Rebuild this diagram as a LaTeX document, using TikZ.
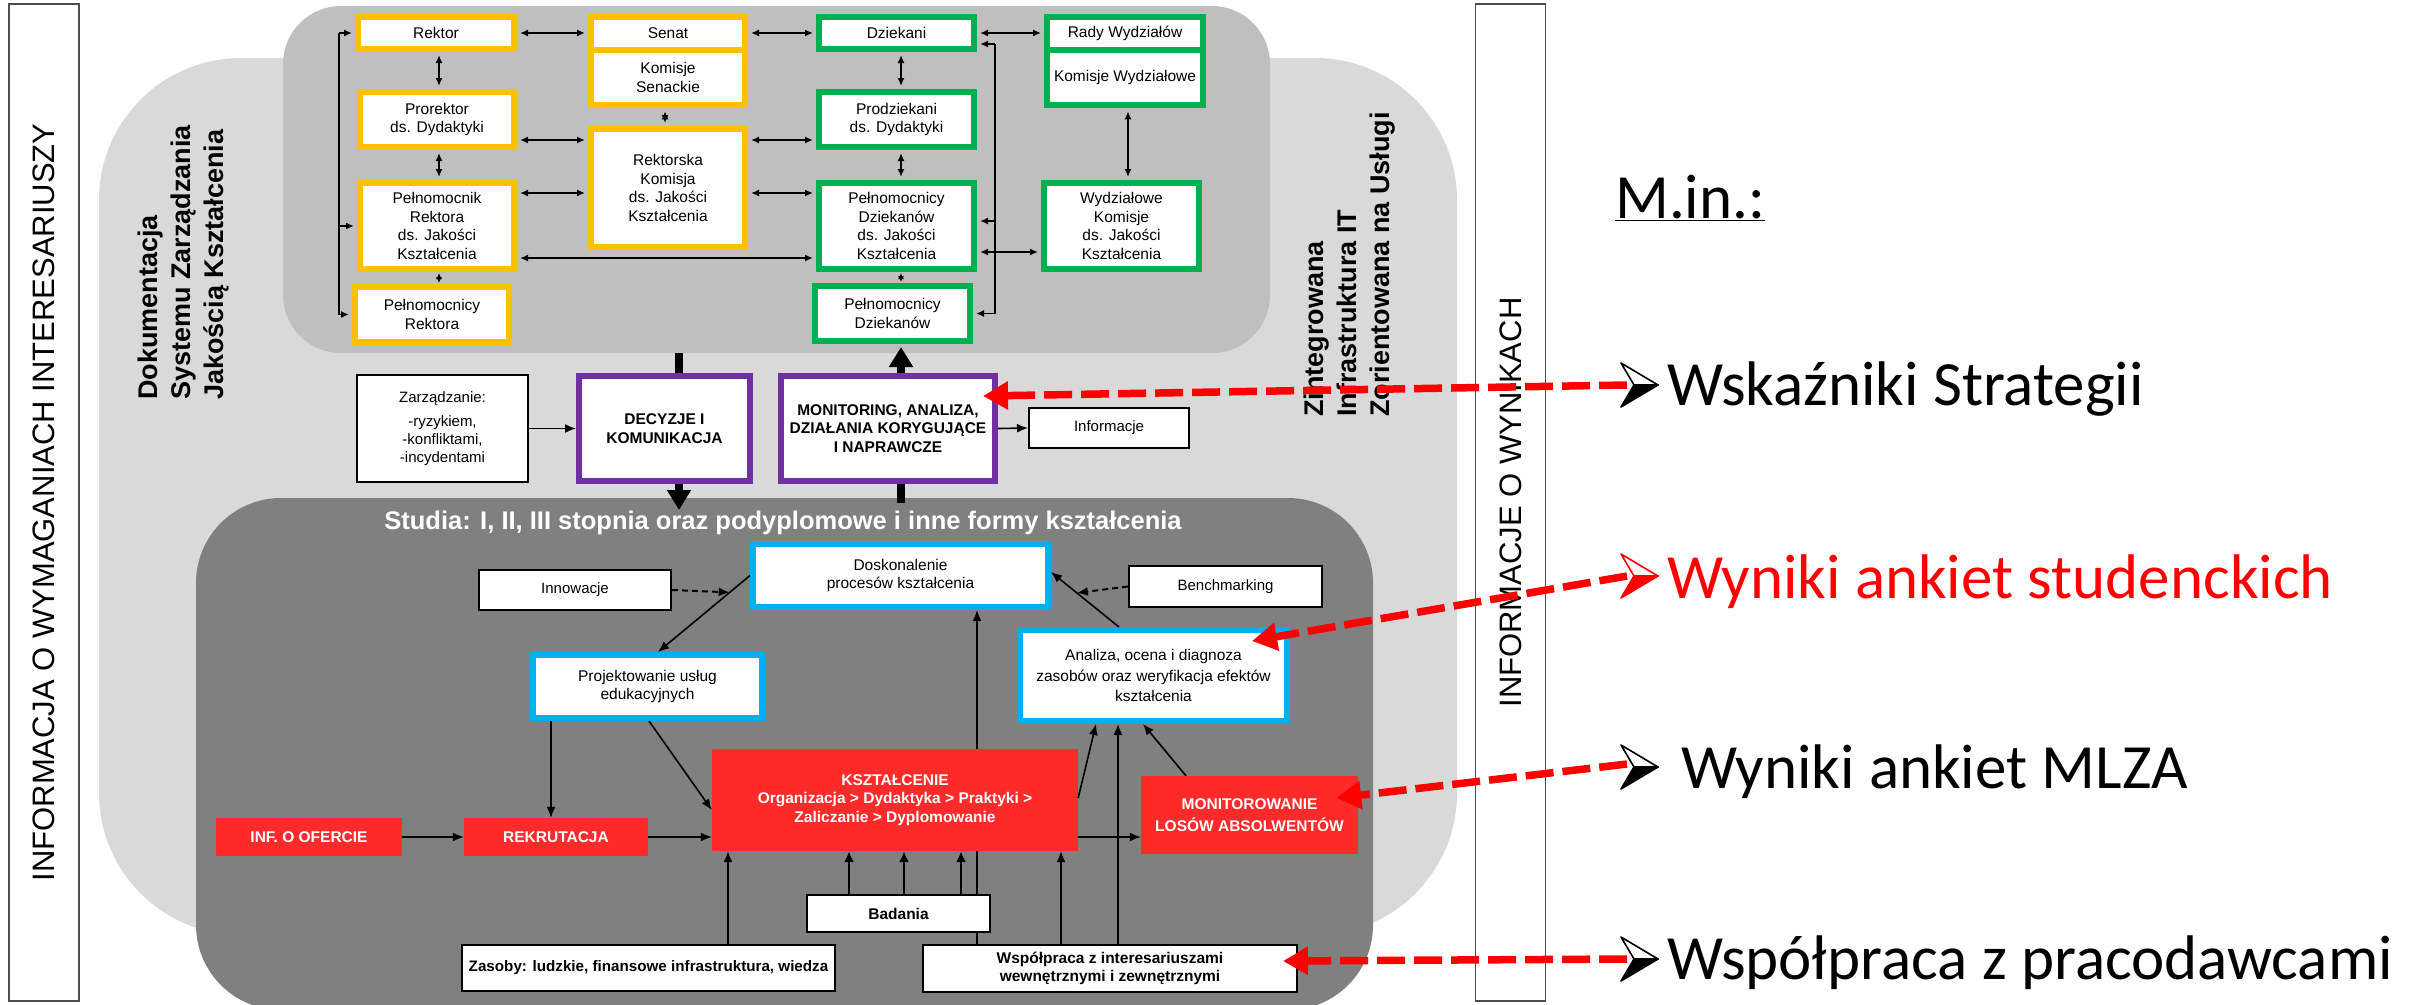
\documentclass[tikz,border=0pt]{standalone}
\usepackage{fontspec}
\setmainfont{Liberation Sans}
\newfontfamily\calibri{Carlito}
\usetikzlibrary{arrows.meta,calc}
\pgfdeclarelayer{bg}
\pgfdeclarelayer{behind}
\pgfsetlayers{bg,behind,main}
\definecolor{lgray}{HTML}{D9D9D9}
\definecolor{mgray}{HTML}{BFBFBF}
\definecolor{dgray}{HTML}{808080}
\definecolor{orng}{HTML}{FFC000}
\definecolor{grn}{HTML}{00B050}
\definecolor{purp}{HTML}{7030A0}
\definecolor{blu}{HTML}{00B0F0}
\definecolor{redbox}{HTML}{FF2A2A}
\definecolor{rline}{HTML}{FF0000}
\newcommand{\fsz}[2]{\fontsize{#1}{#2}\selectfont}
\newcommand{\bulletmark}[2]{%
  \filldraw[draw=#2,fill=white,line width=1.6pt,line join=round] ($(#1)+(-19,-22)$) -- ($(#1)+(18,0)$) -- ($(#1)+(-6,0)$) -- cycle;
  \filldraw[draw=#2,fill=#2,line width=1.6pt,line join=round] ($(#1)+(-19,22)$) -- ($(#1)+(18,0)$) -- ($(#1)+(-6,0)$) -- cycle;
}
\begin{document}
\begin{tikzpicture}[x=1pt,y=-1pt,
  every node/.style={inner sep=0pt, align=center},
  boxO/.style={draw=orng, line width=6pt, fill=white, font=\fsz{15.5}{18.5}},
  boxG/.style={draw=grn, line width=6pt, fill=white, font=\fsz{15.5}{18.5}},
  boxP/.style={draw=purp, line width=6pt, fill=white, font=\bfseries\fsz{15.5}{18.5}},
  boxB/.style={draw=blu, line width=6pt, fill=white, font=\fsz{15.5}{18.5}},
  boxW/.style={draw=black, line width=2pt, fill=white, font=\fsz{15}{18}},
  boxWb/.style={boxW, font=\bfseries\fsz{15.5}{18.5}},
  boxR/.style={fill=redbox, text=white, font=\bfseries\fsz{15.5}{18.5}},
  tallbox/.style={draw=black!70, line width=1.5pt, rotate=90, minimum width=997pt, minimum height=70pt, font=\fsz{31}{36}},
  vtext/.style={rotate=90, anchor=west, align=left, font=\bfseries\fsz{27}{33}},
  rtext/.style={anchor=base west, font=\calibri\fsz{63}{75}},
  tarr/.style={line width=1.6pt, {Latex[length=8pt,width=7pt]}-{Latex[length=8pt,width=7pt]}, shorten <=3pt, shorten >=3pt},
  tarrs/.style={line width=1.6pt, {Latex[length=6pt,width=6pt]}-{Latex[length=6pt,width=6pt]}, shorten <=1pt, shorten >=1pt},
  tone/.style={line width=1.6pt, -{Latex[length=8pt,width=7pt]}, shorten >=3pt},
  arr/.style={line width=1.6pt, -{Latex[length=11pt,width=9pt]}},
  arrT/.style={line width=2.6pt, -{Latex[length=11pt,width=10pt]}},
  darr/.style={line width=2pt, dash pattern=on 6pt off 4pt, -{Latex[length=11pt,width=9pt]}},
  bar/.style={line width=8pt},
  bigarr/.style={line width=8pt, -{Triangle[length=20pt,width=23pt]}},
  rdash/.style={draw=rline, line width=7.5pt, dash pattern=on 28pt off 9pt, -{Triangle[length=25pt,width=27pt]}}
]
\path[use as bounding box] (0,0) rectangle (2417,1004);

\begin{pgfonlayer}{bg}
\fill[white] (0,0) rectangle (2417,1004);
\fill[lgray, rounded corners=142pt] (99,58) rectangle (1457,935);
\fill[mgray, rounded corners=58pt] (283,6) rectangle (1270,353);
\fill[dgray, rounded corners=85pt] (196,498) rectangle (1373,1010);
\end{pgfonlayer}

% side boxes
\node[tallbox] (lbox) at (44,502.5) {INFORMACJA O WYMAGANIACH INTERESARIUSZY};
\node[tallbox] (rbx) at (1510.5,502.5) {INFORMACJE O WYNIKACH};

% vertical titles
\node[vtext] (dok) at (184,400) {Dokumentacja\\Systemu Zarządzania\\Jakością Kształcenia};
\node[vtext] (zint) at (1350,417) {Zintegrowana\\Infrastruktura IT\\Zorientowana na Usługi};

% top boxes
\node[boxO, minimum width=156pt, minimum height=32pt] (rektor) at (436,33) {Rektor};
\node[boxO, minimum width=154pt, minimum height=32.5pt] (senat) at (668,33.25) {Senat};
\node[boxO, minimum width=154pt, minimum height=55.8pt] (ksen) at (668,77.4) {Komisje\\Senackie};
\node[boxG, minimum width=155pt, minimum height=32pt] (dziek) at (896.5,33) {Dziekani};
\node[boxG, minimum width=156pt, minimum height=32.5pt] (rady) at (1125,33.25) {Rady Wydziałów};
\node[boxG, minimum width=156pt, minimum height=55.8pt] (kwyd) at (1125,77.4) {Komisje Wydziałowe};
\node[boxO, minimum width=154pt, minimum height=55pt] (prorek) at (437,119.5) {Prorektor\\ds. Dydaktyki};
\node[boxO, minimum width=154pt, minimum height=118pt] (rkom) at (668,188) {Rektorska\\Komisja\\ds. Jakości\\Kształcenia};
\node[boxG, minimum width=155pt, minimum height=55pt] (prodz) at (896.5,119.5) {Prodziekani\\ds. Dydaktyki};
\node[boxO, minimum width=154pt, minimum height=86pt] (pelnR) at (437,226) {Pełnomocnik\\Rektora\\ds. Jakości\\Kształcenia};
\node[boxG, minimum width=155pt, minimum height=86pt] (pelnD) at (896.5,226) {Pełnomocnicy\\Dziekanów\\ds. Jakości\\Kształcenia};
\node[boxG, minimum width=155pt, minimum height=86pt] (wkom) at (1121.5,226) {Wydziałowe\\Komisje\\ds. Jakości\\Kształcenia};
\node[boxO, minimum width=154pt, minimum height=55pt] (pelnRs) at (432,314.5) {Pełnomocnicy\\Rektora};
\node[boxG, minimum width=155pt, minimum height=55pt] (pelnDs) at (892.5,313.5) {Pełnomocnicy\\Dziekanów};

% middle row
\node[boxW, minimum width=171pt, minimum height=107pt] (zarz) at (442.5,428.5) {Zarządzanie:\\[6pt]-ryzykiem,\\-konfliktami,\\-incydentami};
\node[boxP, minimum width=171pt, minimum height=105pt] (decyz) at (664.5,428.5) {DECYZJE I\\KOMUNIKACJA};
\node[boxP, minimum width=214pt, minimum height=105pt] (monit) at (888,428.5) {MONITORING, ANALIZA,\\DZIAŁANIA KORYGUJĄCE\\I NAPRAWCZE};
\node[boxW, minimum width=160pt, minimum height=40pt] (info) at (1109,428) {Informacje};

% studia
\node[font=\bfseries\fsz{25.5}{30}, text=white, anchor=base] (stud) at (783,529) {Studia: I, II, III stopnia oraz podyplomowe i inne formy kształcenia};

% lower boxes
\node[boxB, minimum width=295pt, minimum height=63pt] (dosk) at (900.5,575.5) {Doskonalenie\\procesów kształcenia};
\node[boxW, minimum width=192pt, minimum height=40pt] (innow) at (575,590) {Innowacje};
\node[boxW, minimum width=193pt, minimum height=41pt] (bench) at (1225.5,586.5) {Benchmarking};
\node[boxB, minimum width=229pt, minimum height=63pt] (proj) at (647.5,686.5) {Projektowanie usług\\edukacyjnych};
\node[boxB, minimum width=267pt, minimum height=91pt, font=\fsz{15.5}{20.5}] (anal) at (1153.5,675.5) {Analiza, ocena i diagnoza\\zasobów oraz weryfikacja efektów\\kształcenia};
\node[boxR, minimum width=366pt, minimum height=102pt] (kszt) at (895,800) {KSZTAŁCENIE\\Organizacja > Dydaktyka > Praktyki >\\Zaliczanie > Dyplomowanie};
\node[boxR, minimum width=217pt, minimum height=78pt, font=\bfseries\fsz{15.5}{22}] (monlos) at (1249.5,815) {MONITOROWANIE\\LOSÓW ABSOLWENTÓW};
\node[boxR, minimum width=186pt, minimum height=38pt] (inf) at (309,837) {INF. O OFERCIE};
\node[boxR, minimum width=184pt, minimum height=38pt] (rekr) at (556,837) {REKRUTACJA};
\node[boxWb, minimum width=183pt, minimum height=37pt] (bad) at (898.5,913.5) {Badania};
\node[boxWb, minimum width=373pt, minimum height=46pt, font=\bfseries\fsz{15.2}{18.5}] (zas) at (648.5,968) {Zasoby: ludzkie, finansowe infrastruktura, wiedza};
\node[boxWb, minimum width=374pt, minimum height=47pt] (wsp) at (1110,968.5) {Współpraca z interesariuszami\\wewnętrznymi i zewnętrznymi};

% helper levels
\coordinate (h140) at (0,140);
\coordinate (h193) at (0,193);
\coordinate (h258) at (0,258);
\coordinate (h252) at (0,252);
\coordinate (h221) at (0,221);
\coordinate (v439) at (439,0);
\coordinate (v665) at (665,0);
\coordinate (v901) at (901,0);
\coordinate (v1128) at (1128,0);

% top connectors
\draw[tarr] (rektor.east) -- (senat.west |- rektor.east);
\draw[tarr] (senat.east |- dziek.west) -- (dziek.west);
\draw[tarr] (dziek.east) -- (rady.west |- dziek.east);
\draw[tarr] (rektor.south -| v439) -- (prorek.north -| v439);
\draw[tarr] (ksen.south -| v665) -- (rkom.north -| v665);
\draw[tarr] (dziek.south -| v901) -- (prodz.north -| v901);
\draw[tarr] (prorek.east |- h140) -- (rkom.west |- h140);
\draw[tarr] (rkom.east |- h140) -- (prodz.west |- h140);
\draw[tarr] (prorek.south -| v439) -- (pelnR.north -| v439);
\draw[tarr] (prodz.south -| v901) -- (pelnD.north -| v901);
\draw[tarr] (pelnR.east |- h193) -- (rkom.west |- h193);
\draw[tarr] (rkom.east |- h193) -- (pelnD.west |- h193);
\draw[tarr] (pelnR.east |- h258) -- (pelnD.west |- h258);
\draw[tarrs] (pelnR.south -| v439) -- (pelnRs.north -| v439);
\draw[tarrs] (pelnD.south -| v901) -- (pelnDs.north -| v901);
\draw[tarr] (kwyd.south -| v1128) -- (wkom.north -| v1128);
\draw[tarr] (pelnD.east |- h252) -- (wkom.west |- h252);
\coordinate (lb) at (339,33);
\draw[tone] (lb) -- (rektor.west);
\draw[tone] (lb) |- (pelnRs.west);
\draw[tone] (lb |- pelnR.west) -- (pelnR.west);
\coordinate (rb) at (995,44);
\draw[tone] (rb) -- (dziek.east |- rb);
\draw[tone] (rb) |- (pelnDs.east);
\draw[tone] (rb |- h221) -- (pelnD.east |- h221);

% middle connectors
\draw[arr] (zarz.east) -- (decyz.west);
\draw[arr] (monit.east) -- (info.west);
\coordinate (g1) at (679,353);
\draw[bar] (g1) -- (decyz.north -| g1);
\coordinate (s1) at (679,510);
\draw[bigarr] (decyz.south -| s1) -- (s1);
\coordinate (g2) at (901,503);
\draw[bar] (monit.south -| g2) -- (g2);
\draw[bigarr, shorten >=3pt] (monit.north -| g2) -- (pelnDs.south -| g2);

% lower connectors
\coordinate (v551) at (551,0);
\coordinate (v649) at (649,0);
\coordinate (v658) at (658,0);
\coordinate (v728) at (728,0);
\coordinate (v849) at (849,0);
\coordinate (v904) at (904,0);
\coordinate (v961) at (961,0);
\coordinate (v977) at (977,0);
\coordinate (v1061) at (1061,0);
\coordinate (v1096) at (1096,0);
\coordinate (v1118) at (1118,0);
\coordinate (v1119) at (1119,0);
\coordinate (v1143) at (1143,0);
\coordinate (v1186) at (1186,0);
\coordinate (h572) at (0,572);
\coordinate (h798) at (0,798);
\coordinate (h810) at (0,810);
\coordinate (h837) at (0,837);

\begin{pgfonlayer}{behind}
\draw[arr] (wsp.north -| v977) -- (dosk.south -| v977);
\end{pgfonlayer}

\draw[arr] (dosk.west) -- (proj.north -| v658);
\path (dosk.west) -- (proj.north -| v658) coordinate[pos=0.22] (itgt);
\draw[darr] (innow.east) -- (itgt);
\draw[arr] (proj.south -| v551) -- (rekr.north -| v551);
\draw[arr] (proj.south -| v649) -- (kszt.west |- h810);
\draw[arr] (inf.east) -- (rekr.west);
\draw[arr] (rekr.east) -- (kszt.west |- rekr.east);
\draw[arr] (kszt.east |- h837) -- (monlos.west |- h837);
\draw[arr] (kszt.east |- h798) -- (anal.south -| v1096);
\draw[arr] (wsp.north -| v1118) -- (anal.south -| v1118);
\draw[arr] (monlos.north -| v1186) -- (anal.south -| v1143);
\draw[arr] (anal.north -| v1119) -- (dosk.east |- h572);
\path (anal.north -| v1119) -- (dosk.east |- h572) coordinate[pos=0.62] (btgt);
\draw[darr] (bench.west) -- (btgt);
\draw[arr] (zas.north -| v728) -- (kszt.south -| v728);
\draw[arrT] (bad.north -| v849) -- (kszt.south -| v849);
\draw[arrT] (bad.north -| v904) -- (kszt.south -| v904);
\draw[arrT] (bad.north -| v961) -- (kszt.south -| v961);
\draw[arr] (wsp.north -| v1061) -- (kszt.south -| v1061);

% right-hand list
\node[rtext] (minn) at (1615,218) {\underline{M.in.:}};
\node[rtext] (w1) at (1667,405) {Wskaźniki Strategii};
\node[rtext, text=rline] (w2) at (1667,598) {Wyniki ankiet studenckich};
\node[rtext] (w3) at (1681,788) {Wyniki ankiet MLZA};
\node[rtext] (w4) at (1667,979) {Współpraca z pracodawcami};

\coordinate (b1) at (1640,385);
\coordinate (b2) at (1640,576);
\coordinate (b3) at (1640,767);
\coordinate (b4) at (1640,959);
\coordinate (b1s) at (1627,385);
\coordinate (b2s) at (1627,576);
\coordinate (b3s) at (1627,764);
\coordinate (b4s) at (1627,959);

\draw[rdash] (b1s) -- ([xshift=-15pt,yshift=32.5pt]monit.east);
\draw[rdash] (b2s) -- ([xshift=-38pt,yshift=34.5pt]anal.east);
\draw[rdash] (b3s) -- ([xshift=-22pt,yshift=17pt]monlos.east);
\draw[rdash] (b4s) -- ([xshift=-15pt,yshift=7.5pt]wsp.east);

\bulletmark{b1}{black}
\bulletmark{b2}{rline}
\bulletmark{b3}{black}
\bulletmark{b4}{black}
\end{tikzpicture}
\end{document}
